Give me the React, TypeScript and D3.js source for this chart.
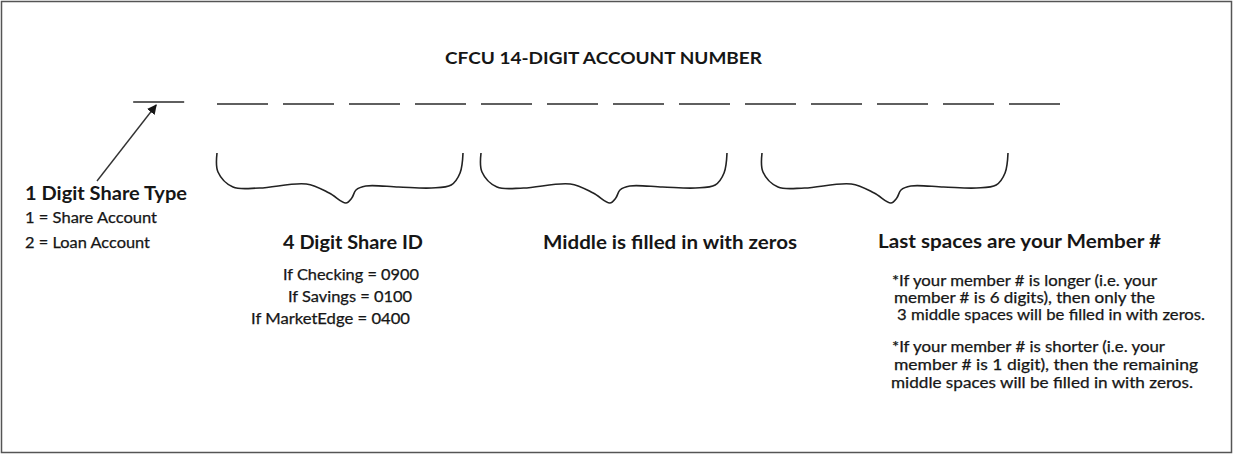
import React from 'react';
import * as d3 from 'd3';

const title = 'CFCU 14-DIGIT ACCOUNT NUMBER';

// one entry per digit of the account number
const slotRoles = [
  'type',
  'share', 'share', 'share', 'share',
  'middle', 'middle', 'middle', 'middle',
  'member', 'member', 'member', 'member', 'member',
];

// which digit slots each curly brace sits under
const braceGroups = [
  { name: 'share', first: 1, last: 4 },
  { name: 'middle', first: 5, last: 8 },
  { name: 'member', first: 9, last: 12 },
];

// brace outline, unit square (x across, y down to the notch)
const braceShape: [number, number][] = [
  [0, 0], [0.004, 0.38], [0.065, 0.68], [0.173, 0.7], [0.363, 0.62],
  [0.456, 0.8], [0.524, 1], [0.548, 0.9], [0.565, 0.74], [0.605, 0.66],
  [0.738, 0.68], [0.871, 0.7], [0.952, 0.64], [0.988, 0.4], [1, 0],
];

const shareTypeHeading = '1 Digit Share Type';
const shareTypeLines = ['1 = Share Account', '2 = Loan Account'];
const shareIdHeading = '4 Digit Share ID';
const shareIdLines = ['If Checking = 0900', 'If Savings = 0100', 'If MarketEdge = 0400'];
const middleHeading = 'Middle is filled in with zeros';
const memberHeading = 'Last spaces are your Member #';
const memberNotes = [
  '*If your member # is longer (i.e. your',
  'member # is 6 digits), then only the',
  '3 middle spaces will be filled in with zeros.',
  '*If your member # is shorter (i.e. your',
  'member # is 1 digit), then the remaining',
  'middle spaces will be filled in with zeros.',
];

const W = 1234;
const H = 455;
const FONT = 'Lato, "Open Sans", sans-serif';
const INK = '#161616';

// text placement: [x, baseline, width]
const layout: Record<string, [number, number, number]> = {
  [title]: [445, 64, 317],
  [shareTypeHeading]: [25, 200, 162],
  [shareTypeLines[0]]: [25, 223, 132],
  [shareTypeLines[1]]: [25, 248, 125],
  [shareIdHeading]: [283, 249, 140],
  [shareIdLines[0]]: [283, 280, 136],
  [shareIdLines[1]]: [288, 302, 124],
  [shareIdLines[2]]: [251, 324, 159],
  [middleHeading]: [543, 249, 254],
  [memberHeading]: [878, 248, 283],
  [memberNotes[0]]: [892, 286, 265],
  [memberNotes[1]]: [894, 303, 261],
  [memberNotes[2]]: [897, 320, 308],
  [memberNotes[3]]: [892, 352, 273],
  [memberNotes[4]]: [894, 370, 304],
  [memberNotes[5]]: [891, 388, 302],
};

const Label: React.FC<{ text: string; size: number; bold?: boolean }> = ({ text, size, bold }) => {
  const [x, y, w] = layout[text];
  return (
    <text
      x={x}
      y={y}
      textLength={w}
      lengthAdjust="spacingAndGlyphs"
      fontFamily={FONT}
      fontSize={size}
      fontWeight={bold ? 700 : 400}
      fill={INK}
      stroke={bold ? 'none' : INK}
      strokeWidth={bold ? 0 : 0.25}
    >
      {text}
    </text>
  );
};

const App: React.FC = () => {
  // slot start positions; the share-type digit sits apart from the rest
  const slotStep = 66;
  const slotWidth = 51;
  const x = d3.scaleLinear().domain([1, 13]).range([217, 217 + slotStep * 12]);
  const typeGap = 0.27;
  const slotX = (i: number) => (i === 0 ? x(-typeGap) : x(i));
  const lineY = 104;

  const braceY = d3.scaleLinear().domain([0, 1]).range([153, 203]);
  const braceNudge = [0, 0, 17];
  const braceSpan = slotStep * 3 + slotWidth - 3;

  const tipX = slotX(0) + 23;
  const tipY = lineY + 1;
  const tailX = 97;
  const tailY = 181;

  return (
    <>
      <style>{'body{margin:0}'}</style>
      <svg width={W} height={H} style={{ display: 'block', background: '#fff' }}>
        <defs>
          <marker id="arrowhead" viewBox="0 0 10 10" refX="9" refY="5" markerWidth="7" markerHeight="7" orient="auto">
            <path d="M0,0 L10,5 L0,10 z" fill={INK} />
          </marker>
        </defs>

        <rect x={1.5} y={1.5} width={W - 4} height={H - 4} fill="none" stroke="#555" strokeWidth={1.5} />

        <Label text={title} size={17.5} bold />

        {/* digit blanks */}
        {slotRoles.map((role, i) => (
          <line
            key={i}
            className={role}
            x1={slotX(i)}
            x2={slotX(i) + slotWidth}
            y1={i === 0 ? lineY - 2 : lineY}
            y2={i === 0 ? lineY - 2 : lineY}
            stroke="#2a2a2a"
            strokeWidth={1.6}
          />
        ))}

        {/* arrow to the share type digit */}
        <line x1={tailX} y1={tailY} x2={tipX} y2={tipY} stroke="#333" strokeWidth={1.4} markerEnd="url(#arrowhead)" />

        {/* braces */}
        {braceGroups.map((g, k) => {
          const x0 = x(g.first) + braceNudge[k];
          const bx = d3.scaleLinear().domain([0, 1]).range([x0, x0 + braceSpan]);
          const path = d3
            .line<[number, number]>()
            .x(d => bx(d[0]))
            .y(d => braceY(d[1]))
            .curve(d3.curveCatmullRom.alpha(0.5))(braceShape);
          return <path key={g.name} d={path || ''} fill="none" stroke="#222" strokeWidth={1.6} />;
        })}

        <Label text={shareTypeHeading} size={18.5} bold />
        {shareTypeLines.map(t => <Label key={t} text={t} size={14.5} />)}

        <Label text={shareIdHeading} size={18} bold />
        {shareIdLines.map(t => <Label key={t} text={t} size={14.5} />)}

        <Label text={middleHeading} size={18} bold />

        <Label text={memberHeading} size={18} bold />
        {memberNotes.map(t => <Label key={t} text={t} size={14.5} />)}
      </svg>
    </>
  );
};

export default App;
